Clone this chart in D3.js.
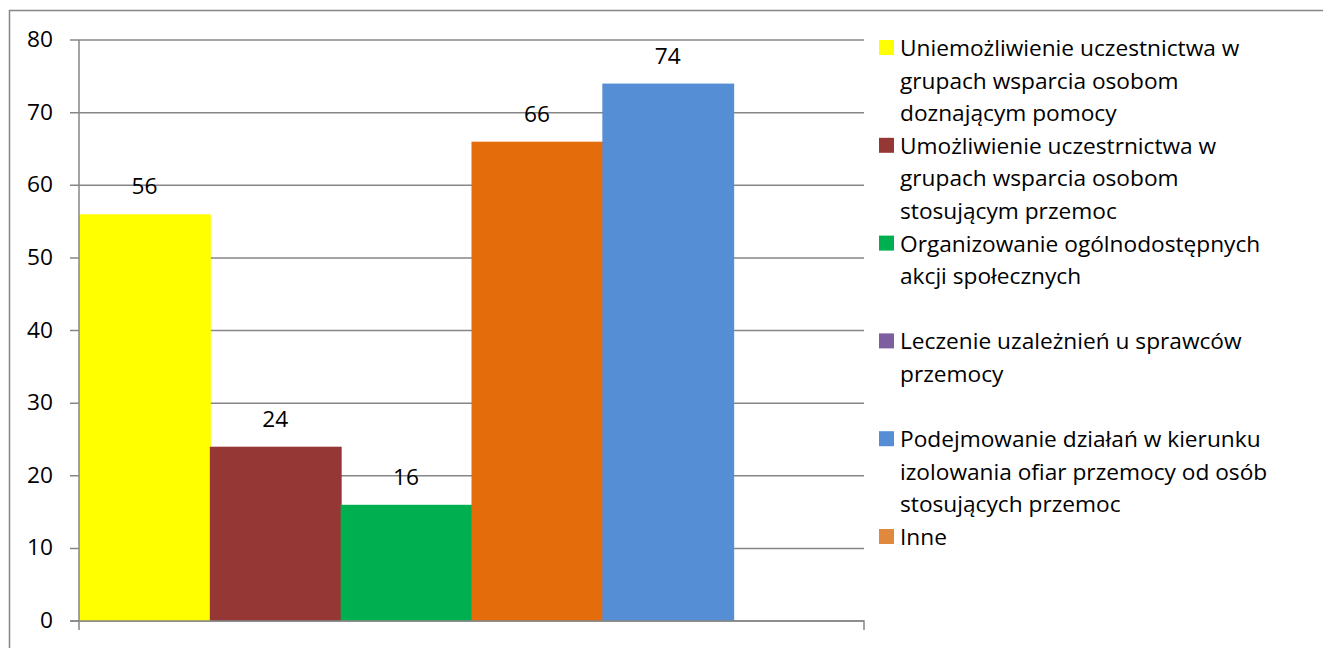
<!DOCTYPE html>
<html>
<head>
<meta charset="utf-8">
<script src="https://cdn.jsdelivr.net/npm/d3@7"></script>
<style>
  body { margin: 0; background: #ffffff; }
  svg { display: block; }
</style>
</head>
<body>
<div id="graf"></div>
<script>
// Wykres słupkowy - działania wobec przemocy

// Dane
serie = [
  'Uniemożliwienie uczestnictwa w grupach wsparcia osobom doznającym pomocy',
  'Umożliwienie uczestrnictwa w grupach wsparcia osobom stosującym przemoc',
  'Organizowanie ogólnodostępnych akcji społecznych',
  'Leczenie uzależnień u sprawców przemocy',
  'Podejmowanie działań w kierunku izolowania ofiar przemocy od osób stosujących przemoc',
  'Inne'
]
// linie legendy tak jak w oryginale
legendaLinie = [
  ['Uniemożliwienie uczestnictwa w', 'grupach wsparcia osobom', 'doznającym pomocy'],
  ['Umożliwienie uczestrnictwa w', 'grupach wsparcia osobom', 'stosującym przemoc'],
  ['Organizowanie ogólnodostępnych', 'akcji społecznych'],
  ['Leczenie uzależnień u sprawców', 'przemocy'],
  ['Podejmowanie działań w kierunku', 'izolowania ofiar przemocy od osób', 'stosujących przemoc'],
  ['Inne']
]
wartosci = [56, 24, 16, 66, 74, null]
kolorySlupkow = ['#ffff00', '#953735', '#00b050', '#e46c0a', '#558ed5', '#e0883e']
koloryLegendy = ['#ffff00', '#953735', '#00b050', '#7d5fa0', '#558ed5', '#e0883e']
ticksY = [0, 10, 20, 30, 40, 50, 60, 70, 80]

ancho_total = 1323
alto_total = 648
fuente = '"Open Sans", Lato, sans-serif'
rozmiar = '22.7px'
gris = '#868686'

svg = d3.select('#graf').append('svg')
        .attr('width', ancho_total)
        .attr('height', alto_total)

// ramka wykresu
svg.append('path')
   .attr('d', `M9.5,${alto_total} V10.5 H${ancho_total}`)
   .attr('fill', 'none')
   .attr('stroke', gris)
   .attr('stroke-width', 1.5)

plot = { left: 79, right: 864, top: 40, bottom: 621 }

x = d3.scaleBand()
      .domain(d3.range(serie.length))
      .range([plot.left, plot.right])
      .padding(0)
y = d3.scaleLinear()
      .domain([0, 80])
      .range([plot.bottom, plot.top])

// linie siatki
g = svg.append('g')
g.selectAll('line.grid')
  .data(ticksY)
  .enter()
  .append('line')
    .attr('class', 'grid')
    .attr('x1', plot.left - 9)
    .attr('x2', plot.right)
    .attr('y1', d => y(d))
    .attr('y2', d => y(d))
    .attr('stroke', gris)
    .attr('stroke-width', 1.5)

// etykiety osi Y
g.selectAll('text.ytick')
  .data(ticksY)
  .enter()
  .append('text')
    .attr('class', 'ytick')
    .attr('x', 53)
    .attr('y', d => y(d) + 7)
    .attr('text-anchor', 'end')
    .attr('font-family', fuente)
    .attr('font-size', rozmiar)
    .attr('fill', '#000000')
    .text(d => d)

// słupki
dane = wartosci.map((v, i) => ({ i: i, v: v })).filter(d => d.v != null)

g.selectAll('rect.bar')
  .data(dane)
  .enter()
  .append('rect')
    .attr('class', 'bar')
    .attr('x', d => x(d.i))
    .attr('y', d => y(d.v))
    .attr('width', x.bandwidth() + 1)
    .attr('height', d => y(0) - y(d.v))
    .attr('fill', d => kolorySlupkow[d.i])

g.selectAll('text.label')
  .data(dane)
  .enter()
  .append('text')
    .attr('class', 'label')
    .attr('x', d => x(d.i) + x.bandwidth() / 2)
    .attr('y', d => y(d.v) - 20)
    .attr('text-anchor', 'middle')
    .attr('font-family', fuente)
    .attr('font-size', rozmiar)
    .attr('fill', '#000000')
    .text(d => d.v)

// osie
g.append('path')
  .attr('d', `M${plot.left},${plot.top} V${plot.bottom + 9}`)
  .attr('stroke', gris)
  .attr('stroke-width', 1.5)
  .attr('fill', 'none')
g.append('path')
  .attr('d', `M${plot.left - 9},${plot.bottom} H${plot.right} V${plot.bottom + 9}`)
  .attr('stroke', gris)
  .attr('stroke-width', 1.5)
  .attr('fill', 'none')

// legenda
leg = svg.append('g')
krok = 97.8
legendaLinie.forEach((linie, i) => {
  y0 = 56 + i * krok
  leg.append('rect')
    .attr('x', 879)
    .attr('y', y0 - 16)
    .attr('width', 15)
    .attr('height', 15)
    .attr('fill', koloryLegendy[i])

  linie.forEach((t, j) => {
    leg.append('text')
      .attr('x', 900)
      .attr('y', y0 + j * 32.6)
      .attr('font-family', fuente)
      .attr('font-size', rozmiar)
      .attr('fill', '#000000')
      .text(t)
  })
})
</script>
</body>
</html>
